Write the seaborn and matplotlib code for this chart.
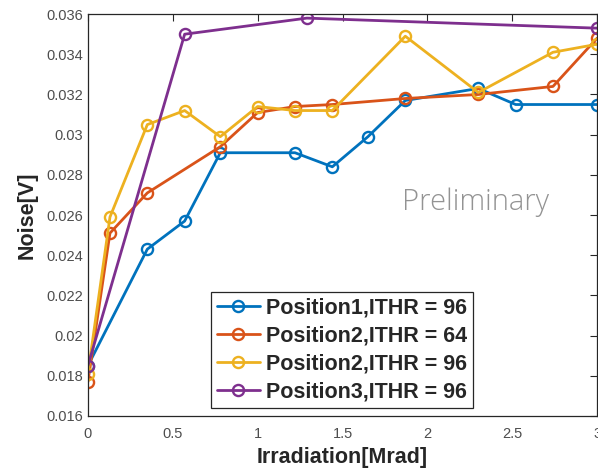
import pandas as pd
import matplotlib
matplotlib.use('Agg')
import matplotlib.pyplot as plt
import seaborn as sns

# values
pos1_x = [0, 0.35, 0.57, 0.78, 1.22, 1.44, 1.65, 1.87, 2.30, 2.52, 3.0]
pos1_y = [0.0185, 0.0243, 0.0257, 0.0291, 0.0291, 0.0284, 0.0299, 0.0317, 0.0323, 0.0315, 0.0315]

pos2_64_x = [0, 0.13, 0.35, 0.78, 1.0, 1.22, 1.44, 1.87, 2.30, 2.74, 3.0]
pos2_64_y = [0.0177, 0.0251, 0.0271, 0.0294, 0.0311, 0.0314, 0.0315, 0.0318, 0.0320, 0.0324, 0.0348]

pos2_96_x = [0, 0.13, 0.35, 0.57, 0.78, 1.0, 1.22, 1.44, 1.87, 2.30, 2.74, 3.0]
pos2_96_y = [0.0181, 0.0259, 0.0305, 0.0312, 0.0299, 0.0314, 0.0312, 0.0312, 0.0349, 0.0321, 0.0341, 0.0345]

pos3_x = [0, 0.57, 1.29, 3.0]
pos3_y = [0.0185, 0.0350, 0.0358, 0.0353]

labels = ['Position1,ITHR = 96', 'Position2,ITHR = 64', 'Position2,ITHR = 96', 'Position3,ITHR = 96']
colors = ['#0072BD', '#D95319', '#EDB120', '#7E2F8E']

series = [(pos1_x, pos1_y), (pos2_64_x, pos2_64_y), (pos2_96_x, pos2_96_y), (pos3_x, pos3_y)]

sns.set_style('white')
plt.rcParams['font.family'] = ['Liberation Sans', 'DejaVu Sans']

dpi = 100
fig = plt.figure(figsize=(598 / dpi, 470 / dpi), dpi=dpi)
fig.patch.set_facecolor('white')
ax = fig.add_axes([0.147, 0.115, 0.8515, 0.855])

for (xs, ys), lab, col in zip(series, labels, colors):
    df = pd.DataFrame({'x': xs, 'y': ys})
    sns.lineplot(data=df, x='x', y='y', ax=ax, color=col, label=lab,
                 marker='o', markersize=8, markerfacecolor='none',
                 markeredgecolor=col, markeredgewidth=1.7, linewidth=2.0,
                 estimator=None, sort=False)

ax.set_xlim(0, 3)
ax.set_ylim(0.016, 0.036)
ax.set_xticks([0, 0.5, 1, 1.5, 2, 2.5, 3])
ax.set_xticklabels(['0', '0.5', '1', '1.5', '2', '2.5', '3'])
yt = [0.016, 0.018, 0.02, 0.022, 0.024, 0.026, 0.028, 0.03, 0.032, 0.034, 0.036]
ax.set_yticks(yt)
ax.set_yticklabels(['0.016', '0.018', '0.02', '0.022', '0.024', '0.026', '0.028', '0.03', '0.032', '0.034', '0.036'])

ax.tick_params(axis='both', direction='in', length=5, width=0.8, labelsize=10.5,
               labelcolor='#4d4d4d', top=True, right=True, color='#262626')
ax.tick_params(axis='x', pad=8)
for sp in ax.spines.values():
    sp.set_edgecolor('#262626')
    sp.set_linewidth(0.9)

ax.set_xlabel('Irradiation[Mrad]', fontsize=15.5, fontweight='bold', color='#262626', labelpad=4)
ax.set_ylabel('Noise[V]', fontsize=15.5, fontweight='bold', color='#262626', labelpad=6)

ax.text(0.762, 0.532, 'Preliminary', transform=ax.transAxes, ha='center', va='center',
        fontsize=21, color='#939393', family=['Open Sans', 'DejaVu Sans'], fontweight='light')

leg = ax.legend(loc='lower left', bbox_to_anchor=(0.242, 0.02), borderaxespad=0,
                fancybox=False, framealpha=1, edgecolor='#262626',
                prop={'size': 15.5, 'weight': 'bold'}, handlelength=2.0,
                labelspacing=0.33, handletextpad=0.3, borderpad=0.25)
leg.get_frame().set_linewidth(0.9)

fig.savefig('out.png', dpi=dpi)
